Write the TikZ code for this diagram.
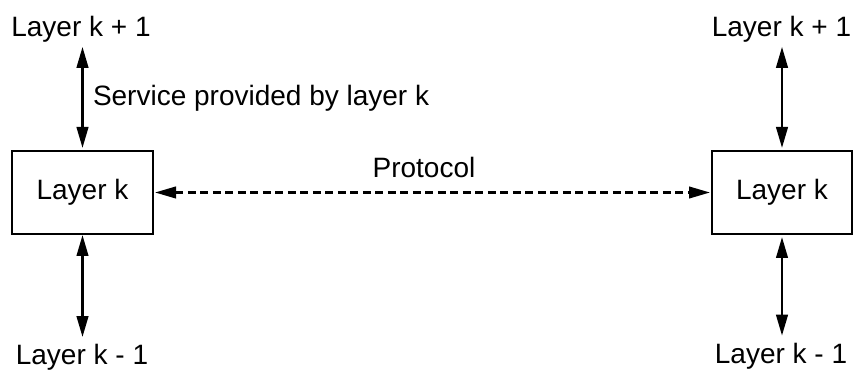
\documentclass[tikz,border=0pt]{standalone}
\usepackage{fontspec}
\setmainfont{Liberation Sans}
\usetikzlibrary{arrows.meta}
\begin{document}
\begin{tikzpicture}[x=1pt,y=1pt,
  lbl/.style={inner sep=0pt,outer sep=0pt,font=\fontsize{28}{34}\selectfont},
  layerbox/.style={draw,line width=1.5pt,minimum width=141pt,minimum height=83pt,inner sep=0pt,outer sep=0pt,font=\fontsize{28}{34}\selectfont},
  both/.style={{Triangle[length=21pt,width=11.5pt]}-{Triangle[length=21pt,width=11.5pt]},line width=2.6pt},
]
\useasboundingbox (0,0) rectangle (854,372);
\fill[white] (0,0) rectangle (854,372);
% boxes
\node[layerbox] (boxL) at (82.5,179.5) {Layer k};
\node[layerbox,minimum width=140pt] (boxR) at (782,179.5) {Layer k};
% labels
\node[lbl,anchor=base] (topL) at (81,335) {Layer k + 1};
\node[lbl,anchor=base] (topR) at (781.5,335) {Layer k + 1};
\node[lbl,anchor=base] (botL) at (82,7) {Layer k - 1};
\node[lbl,anchor=base] (botR) at (781,8) {Layer k - 1};
\node[lbl,anchor=base west] (svc) at (93,266) {Service provided by layer k};
\node[lbl,anchor=base] (proto) at (424,194.3) {Protocol};
% vertical arrows
\draw[both,shorten <=4pt,shorten >=3pt] (topL.south -| boxL.north) -- (boxL.north);
\draw[both,shorten <=1pt,shorten >=7.6pt] (boxL.south) -- (botL.north -| boxL.south);
\draw[both,shorten <=4pt,shorten >=3pt] (topR.south -| boxR.north) -- (boxR.north);
\draw[both,shorten <=3pt,shorten >=8pt] (boxR.south) -- (botR.north -| boxR.south);
% protocol
\draw[both,line width=2.5pt,dash pattern=on 8pt off 4.5pt,shorten <=2pt,shorten >=2pt] (boxL.east) -- (boxR.west);
\end{tikzpicture}
\end{document}
